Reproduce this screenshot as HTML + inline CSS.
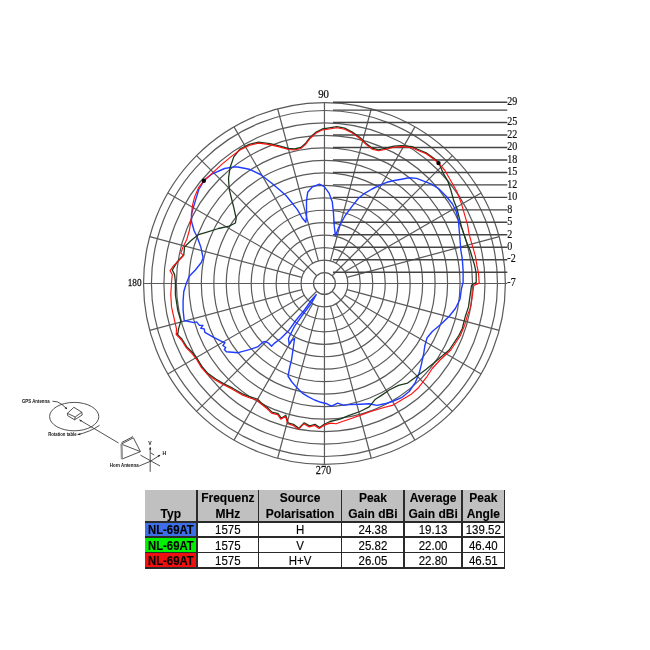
<!DOCTYPE html>
<html><head><meta charset="utf-8"><style>
html,body{margin:0;padding:0;background:#fff;}
body{width:650px;height:650px;position:relative;overflow:hidden;font-family:"Liberation Sans",sans-serif;}
svg{position:absolute;left:0;top:0;filter:blur(0.35px);}
.t{position:absolute;box-sizing:border-box;}
#tb{position:absolute;left:0;top:0;width:650px;height:650px;filter:blur(0.3px);}
.c{position:absolute;text-align:center;color:#000;-webkit-text-stroke:0.12px #000;}
</style></head><body>
<svg width="650" height="650" viewBox="0 0 650 650">
<g fill="none" stroke="#5a5a5a" stroke-width="1.2">
<circle cx="324.45" cy="283.50" r="10.90"/>
<circle cx="324.45" cy="283.50" r="23.37"/>
<circle cx="324.45" cy="283.50" r="35.84"/>
<circle cx="324.45" cy="283.50" r="48.31"/>
<circle cx="324.45" cy="283.50" r="60.78"/>
<circle cx="324.45" cy="283.50" r="73.25"/>
<circle cx="324.45" cy="283.50" r="85.72"/>
<circle cx="324.45" cy="283.50" r="98.19"/>
<circle cx="324.45" cy="283.50" r="110.66"/>
<circle cx="324.45" cy="283.50" r="123.13"/>
<circle cx="324.45" cy="283.50" r="135.60"/>
<circle cx="324.45" cy="283.50" r="148.07"/>
<circle cx="324.45" cy="283.50" r="160.54"/>
<circle cx="324.45" cy="283.50" r="173.01"/>
<circle cx="324.45" cy="283.50" r="180.90"/>
<line x1="347.02" y1="277.45" x2="499.19" y2="236.68"/>
<line x1="344.69" y1="271.81" x2="481.11" y2="193.05"/>
<line x1="332.16" y1="275.79" x2="452.37" y2="155.58"/>
<line x1="336.13" y1="263.26" x2="414.90" y2="126.84"/>
<line x1="330.50" y1="260.93" x2="371.27" y2="108.76"/>
<line x1="318.40" y1="260.93" x2="277.63" y2="108.76"/>
<line x1="312.76" y1="263.26" x2="234.00" y2="126.84"/>
<line x1="316.74" y1="275.79" x2="196.53" y2="155.58"/>
<line x1="304.21" y1="271.81" x2="167.79" y2="193.05"/>
<line x1="301.88" y1="277.45" x2="149.71" y2="236.68"/>
<line x1="301.88" y1="289.55" x2="149.71" y2="330.32"/>
<line x1="304.21" y1="295.19" x2="167.79" y2="373.95"/>
<line x1="316.74" y1="291.21" x2="196.53" y2="411.42"/>
<line x1="312.76" y1="303.74" x2="234.00" y2="440.16"/>
<line x1="318.40" y1="306.07" x2="277.63" y2="458.24"/>
<line x1="330.50" y1="306.07" x2="371.27" y2="458.24"/>
<line x1="336.13" y1="303.74" x2="414.90" y2="440.16"/>
<line x1="332.16" y1="291.21" x2="452.37" y2="411.42"/>
<line x1="344.69" y1="295.19" x2="481.11" y2="373.95"/>
<line x1="347.02" y1="289.55" x2="499.19" y2="330.32"/>
<line x1="324.45" y1="102.60" x2="324.45" y2="464.40"/>
<line x1="143.55" y1="283.50" x2="507.30" y2="283.50"/>
<line x1="332.95" y1="272.20" x2="507.30" y2="272.20" stroke="#444" stroke-width="1.4"/>
<line x1="332.95" y1="259.73" x2="507.30" y2="259.73" stroke="#444" stroke-width="1.4"/>
<line x1="332.95" y1="247.26" x2="507.30" y2="247.26" stroke="#444" stroke-width="1.4"/>
<line x1="332.95" y1="234.79" x2="507.30" y2="234.79" stroke="#444" stroke-width="1.4"/>
<line x1="332.95" y1="222.32" x2="507.30" y2="222.32" stroke="#444" stroke-width="1.4"/>
<line x1="332.95" y1="209.85" x2="507.30" y2="209.85" stroke="#444" stroke-width="1.4"/>
<line x1="332.95" y1="197.38" x2="507.30" y2="197.38" stroke="#444" stroke-width="1.4"/>
<line x1="332.95" y1="184.91" x2="507.30" y2="184.91" stroke="#444" stroke-width="1.4"/>
<line x1="332.95" y1="172.44" x2="507.30" y2="172.44" stroke="#444" stroke-width="1.4"/>
<line x1="332.95" y1="159.97" x2="507.30" y2="159.97" stroke="#444" stroke-width="1.4"/>
<line x1="332.95" y1="147.50" x2="507.30" y2="147.50" stroke="#444" stroke-width="1.4"/>
<line x1="332.95" y1="135.03" x2="507.30" y2="135.03" stroke="#444" stroke-width="1.4"/>
<line x1="332.95" y1="122.56" x2="507.30" y2="122.56" stroke="#444" stroke-width="1.4"/>
<line x1="332.95" y1="110.09" x2="507.30" y2="110.09" stroke="#444" stroke-width="1.4"/>
<line x1="332.95" y1="102.20" x2="507.30" y2="102.20" stroke="#444" stroke-width="1.4"/>
</g>
<g font-family="Liberation Serif" font-size="12" fill="#111" stroke="#111" stroke-width="0.2" transform="translate(507.3 0) scale(0.84 1) translate(-507.3 0)">
<text x="507.3" y="105.0">29</text>
<text x="507.3" y="125.4">25</text>
<text x="507.3" y="137.8">22</text>
<text x="507.3" y="150.3">20</text>
<text x="507.3" y="162.8">18</text>
<text x="507.3" y="175.2">15</text>
<text x="507.3" y="187.7">12</text>
<text x="507.3" y="200.2">10</text>
<text x="507.3" y="212.7">8</text>
<text x="507.3" y="225.1">5</text>
<text x="507.3" y="237.6">2</text>
<text x="507.3" y="250.1">0</text>
<text x="507.3" y="262.5">-2</text>
<text x="507.3" y="285.9">-7</text>
</g>
<g font-family="Liberation Serif" fill="#111" stroke="#111" stroke-width="0.25">
<text x="323.6" y="97.9" font-size="12" text-anchor="middle" transform="translate(323.6 0) scale(0.9 1) translate(-323.6 0)">90</text>
<text x="323.5" y="473.9" font-size="13" text-anchor="middle" transform="translate(323.5 0) scale(0.8 1) translate(-323.5 0)">270</text>
<text x="141.6" y="285.7" font-size="11.3" text-anchor="end" transform="translate(141.6 0) scale(0.82 1) translate(-141.6 0)">180</text>
</g>
<g fill="none" stroke-width="1.5" stroke-linejoin="round" stroke-linecap="round">
<path d="M186.2 283.8L189.2 276.2L195.4 270.0L201.5 262.3L203.1 257.7L200.8 246.9L196.9 236.2L194.2 231.0L191.5 221.5L191.5 213.8L194.2 204.6L198.8 189.5L204.6 180.0L212.3 173.8L224.6 168.5L233.8 166.9L237.7 167.0L249.2 169.2L260.4 174.5L271.5 183.0L280.0 190.3L286.2 195.8L292.3 203.2L297.2 209.4L302.2 218.0L305.8 222.3L306.5 216.8L306.5 200.8L307.7 192.2L312.0 187.2L319.4 184.2L324.3 186.6L329.2 193.4L332.3 202.0L333.5 213.1L334.2 225.4L335.4 235.8L339.1 226.6L345.2 215.5L352.6 205.7L358.5 198.2L364.6 193.3L372.0 189.0L379.4 185.3L386.8 182.3L394.2 180.5L401.5 179.2L409.0 177.7L416.6 178.4L423.1 180.8L430.8 183.8L438.5 188.5L446.2 196.2L452.3 203.8L456.2 211.5L458.5 220.8L459.2 230.0L460.0 239.2L460.8 250.0L462.3 259.2L463.1 270.0L463.1 282.3L461.5 288.5L460.0 299.2L455.4 308.5L449.2 316.2L441.5 323.8L432.3 331.5L427.0 338.0L424.8 346.0L423.8 353.1L421.5 363.8L419.2 373.1L415.4 382.3L409.2 391.5L401.5 397.7L392.3 401.5L384.6 403.8L376.9 405.4L369.2 403.8L360.0 404.2L349.2 404.6L343.8 405.4L337.7 403.1L331.5 406.2L326.9 403.8L320.8 402.3L314.6 400.0L308.5 396.9L302.3 393.1L296.2 386.9L291.5 381.5L288.0 376.0L290.0 366.0L291.5 360.0L293.1 349.2L294.6 338.5L291.5 340.8L289.2 344.6L288.5 338.5L291.5 332.3L294.6 326.2L302.3 315.4L311.5 303.1L316.2 294.6L311.5 300.0L303.8 310.8L296.2 320.0L288.5 330.8L280.8 338.5L274.6 343.1L271.5 346.2L268.5 343.1L265.4 341.5L263.1 342.0L257.6 346.9L249.3 349.6L238.2 352.7L226.4 351.7L224.3 349.6L225.7 347.5L222.9 345.5L225.0 342.7L221.6 341.3L213.2 337.2L204.9 332.3L204.2 328.9L200.8 328.2L202.9 325.4L199.4 325.4L196.6 321.9L193.9 322.6L184.2 320.5L183.1 310.0L183.1 300.8L183.8 291.5L186.2 283.8" stroke="#1f3cff" stroke-width="1.4"/>
<path d="M175.4 282.3L174.6 274.6L172.3 270.0L176.9 262.3L183.8 254.6L184.6 246.9L190.8 240.8L198.5 234.6L206.2 232.3L218.5 228.5L229.2 226.2L235.4 223.0L236.2 218.5L233.8 207.7L231.5 198.5L229.2 189.2L228.5 178.5L230.0 167.7L233.8 156.9L240.0 149.0L249.2 144.4L258.5 142.1L270.0 143.6L279.2 145.9L288.5 148.5L294.6 149.0L300.8 147.5L305.4 143.6L310.0 137.5L316.2 132.1L322.3 129.0L327.7 128.2L336.9 126.7L344.6 128.2L352.3 132.1L360.0 137.5L366.2 143.6L372.3 148.2L378.5 149.8L386.2 148.2L393.8 146.2L401.5 145.6L412.3 146.7L416.9 149.0L426.2 152.8L433.8 158.2L438.5 162.1L443.1 173.1L447.7 180.8L450.8 190.0L453.8 200.8L456.9 208.5L459.2 217.7L461.5 226.9L464.6 236.2L467.7 245.4L470.0 250.0L472.3 257.7L474.6 265.4L476.2 273.1L476.2 282.3L471.5 285.4L470.0 296.2L468.5 306.9L465.4 316.2L462.3 328.5L458.5 336.2L449.2 350.0L440.0 357.7L433.8 363.1L426.2 369.2L416.9 376.2L407.7 383.1L398.5 385.4L389.2 390.0L381.5 395.4L375.4 399.2L369.2 406.9L360.0 411.5L349.2 415.4L340.0 419.2L330.0 421.5L323.8 424.5L319.6 427.5L315.0 424.4L309.6 425.9L304.2 422.8L298.9 428.2L293.5 424.4L288.1 422.8L285.8 415.2L281.2 418.2L278.1 413.6L271.9 412.1L267.3 407.5L261.2 402.8L257.3 399.0L249.6 396.7L241.9 393.6L232.7 388.2L223.5 383.6L215.8 379.0L208.1 373.6L201.9 366.7L197.3 359.0L192.7 352.8L186.6 346.7L181.9 339.0L176.6 333.6L177.7 334.6L178.5 329.2L180.8 320.8L177.7 310.0L175.4 294.6L175.4 282.3" stroke="#1e3a1e" stroke-width="1.3"/>
<path d="M171.5 282.3L172.3 274.6L170.0 270.8L173.8 265.4L178.5 260.8L183.8 255.4L180.8 253.1L183.1 246.9L186.9 239.2L189.5 230.0L191.5 216.9L192.3 206.2L194.6 196.9L198.5 187.7L203.8 180.8L212.3 173.1L221.5 164.6L230.8 156.9L240.0 150.0L249.2 145.4L258.5 143.1L270.0 144.6L279.2 146.9L288.5 149.5L294.6 150.0L300.8 148.5L305.4 144.6L310.0 138.5L316.2 133.1L322.3 130.0L327.7 129.2L336.9 127.7L344.6 129.2L352.3 133.1L360.0 138.5L366.2 144.6L372.3 149.2L378.5 150.8L386.2 149.2L393.8 147.2L401.5 146.6L412.3 147.7L416.9 150.0L426.2 153.8L433.8 159.2L438.5 163.1L444.6 170.0L450.8 180.8L456.9 191.5L461.5 203.8L464.6 214.6L467.7 225.4L469.2 234.6L472.3 245.4L475.4 256.2L476.9 265.4L478.5 273.1L479.2 283.1L473.8 285.4L472.3 296.2L470.8 306.9L467.7 314.6L464.6 325.4L460.0 336.2L450.8 350.0L440.0 360.0L432.3 368.5L426.2 377.7L418.5 387.7L410.8 394.6L401.5 400.0L392.3 405.4L383.1 407.7L370.8 411.5L360.0 415.4L349.2 419.2L342.3 421.5L336.2 423.8L330.0 423.1L323.8 425.4L319.2 428.5L314.6 425.4L309.2 426.9L303.8 423.8L298.5 429.2L293.1 425.4L287.7 423.8L285.4 416.2L280.8 419.2L277.7 414.6L271.5 413.1L266.9 408.5L260.8 403.8L256.9 400.0L249.2 397.7L241.5 394.6L232.3 389.2L223.1 384.6L215.4 380.0L207.7 374.6L201.5 367.7L196.9 360.0L192.3 353.8L186.2 347.7L181.5 340.0L176.2 334.6L176.5 329.0L174.0 318.0L171.5 306.9L170.8 294.6L171.5 282.3" stroke="#ff1010" stroke-width="1.15"/>
</g>
<circle cx="203.8" cy="180.8" r="2.2" fill="#000"/>
<circle cx="438.5" cy="163.1" r="2.2" fill="#000"/>
<g fill="none" stroke="#333" stroke-width="0.85" stroke-linejoin="round">
<ellipse cx="74.2" cy="416.6" rx="24.6" ry="14.2"/>
<path d="M67.4 413.3 L73.9 407.3 L81.8 412.2 L75.2 417 Z"/>
<path d="M67.4 413.3 L67.6 415.6 L74.6 419.8 L82.2 415 L81.8 412.2 M75.2 417 L74.6 419.8"/>
<path d="M52.4 401.2 Q58 401 62 404.5 L67 409"/>
<path d="M79.4 419.8 L118.5 443"/>
<path d="M77.5 434.6 Q90 432 99.5 425.3"/>
<path d="M121.3 444.1 L133.4 437.8 L140.4 451.6 L121.9 459.1 Z"/>
<path d="M121.5 442.6 L133 436.6"/>
<path d="M121.3 444.1 L140.4 451.6"/>
<line x1="121.6" y1="444.1" x2="121.9" y2="459.1" stroke="#999" stroke-width="2.2"/>
<path d="M140.4 455.1 L160 466"/>
<path d="M150.2 447.6 L150.2 471.8"/>
<path d="M150.2 461.4 L160 455.1"/>
<path d="M139.2 466 L150.2 461.4"/>
<path d="M150.7 452.8 L154.2 455.1"/>
</g>
<g fill="#222">
<path d="M67.2 409.2 L64.6 408.3 L66.2 406.8 Z"/>
<path d="M79.4 419.8 L82 420.2 L80.8 421.8 Z"/>
<path d="M77.5 434.6 L80.2 433.2 L80.4 435.2 Z"/>
<path d="M150.2 446.8 L149.1 449.6 L151.3 449.6 Z"/>
<path d="M160.5 454.8 L157.6 455.4 L158.8 457.2 Z"/>
</g>
<g font-family="Liberation Sans" font-size="4.6" fill="#111" font-weight="bold">
<text x="21.9" y="403.3" textLength="27.7" lengthAdjust="spacingAndGlyphs">GPS Antenna</text>
<text x="48.2" y="436.2" textLength="28.4" lengthAdjust="spacingAndGlyphs">Rotation table</text>
<text x="109.8" y="467.1" textLength="28.8" lengthAdjust="spacingAndGlyphs">Horn Antenna</text>
<text x="148.2" y="444.8" font-size="5">V</text>
<text x="162.4" y="454.6" font-size="5">H</text>
</g>
</svg>
<div id="tb">
<div class="t" style="left:144.5px;top:489.8px;width:360.1px;height:32.1px;background:#c0c0c0;"></div>
<div class="t" style="left:144.5px;top:521.9px;width:52.7px;height:15.2px;background:#3f6fe8;"></div>
<div class="t" style="left:144.5px;top:537.1px;width:52.7px;height:15.3px;background:#00f000;"></div>
<div class="t" style="left:144.5px;top:552.4px;width:52.7px;height:15.7px;background:#f01010;"></div>
<div class="t" style="left:144.5px;top:521.1px;width:360.9px;height:1.5px;background:#2a2a2a;"></div>
<div class="t" style="left:144.5px;top:536.4px;width:360.9px;height:1.5px;background:#2a2a2a;"></div>
<div class="t" style="left:144.5px;top:551.6px;width:360.9px;height:1.5px;background:#2a2a2a;"></div>
<div class="t" style="left:144.5px;top:567.4px;width:360.9px;height:1.5px;background:#2a2a2a;"></div>
<div class="t" style="left:196.4px;top:489.8px;width:1.5px;height:79.1px;background:#2a2a2a;"></div>
<div class="t" style="left:257.8px;top:489.8px;width:1.5px;height:79.1px;background:#2a2a2a;"></div>
<div class="t" style="left:340.9px;top:489.8px;width:1.5px;height:79.1px;background:#2a2a2a;"></div>
<div class="t" style="left:403.4px;top:489.8px;width:1.5px;height:79.1px;background:#2a2a2a;"></div>
<div class="t" style="left:461.2px;top:489.8px;width:1.5px;height:79.1px;background:#2a2a2a;"></div>
<div class="t" style="left:503.9px;top:489.8px;width:1.5px;height:79.1px;background:#2a2a2a;"></div>
<div class="c" style="left:144.5px;width:52.7px;top:503.6px;height:20px;font-size:12.00px;line-height:20px;font-weight:bold;transform:scaleY(1.000);">Typ</div>
<div class="c" style="left:197.2px;width:61.3px;top:488.3px;height:20px;font-size:12.00px;line-height:20px;font-weight:bold;transform:scaleY(1.000);">Frequenz</div>
<div class="c" style="left:197.2px;width:61.3px;top:503.6px;height:20px;font-size:12.00px;line-height:20px;font-weight:bold;transform:scaleY(1.000);">MHz</div>
<div class="c" style="left:258.5px;width:83.1px;top:488.3px;height:20px;font-size:12.00px;line-height:20px;font-weight:bold;transform:scaleY(1.000);">Source</div>
<div class="c" style="left:258.5px;width:83.1px;top:503.6px;height:20px;font-size:12.00px;line-height:20px;font-weight:bold;transform:scaleY(1.000);">Polarisation</div>
<div class="c" style="left:341.6px;width:62.6px;top:488.3px;height:20px;font-size:12.00px;line-height:20px;font-weight:bold;transform:scaleY(1.000);">Peak</div>
<div class="c" style="left:341.6px;width:62.6px;top:503.6px;height:20px;font-size:12.00px;line-height:20px;font-weight:bold;transform:scaleY(1.000);">Gain dBi</div>
<div class="c" style="left:404.2px;width:57.8px;top:488.3px;height:20px;font-size:12.00px;line-height:20px;font-weight:bold;transform:scaleY(1.000);">Average</div>
<div class="c" style="left:404.2px;width:57.8px;top:503.6px;height:20px;font-size:12.00px;line-height:20px;font-weight:bold;transform:scaleY(1.000);">Gain dBi</div>
<div class="c" style="left:462.0px;width:42.6px;top:488.3px;height:20px;font-size:12.00px;line-height:20px;font-weight:bold;transform:scaleY(1.000);">Peak</div>
<div class="c" style="left:462.0px;width:42.6px;top:503.6px;height:20px;font-size:12.00px;line-height:20px;font-weight:bold;transform:scaleY(1.000);">Angle</div>
<div class="c" style="left:144.5px;width:52.7px;top:520.3px;height:20px;font-size:11.30px;line-height:20px;font-weight:bold;transform:scaleY(1.120);">NL-69AT</div>
<div class="c" style="left:197.2px;width:61.3px;top:520.3px;height:20px;font-size:11.50px;line-height:20px;transform:scaleY(1.120);">1575</div>
<div class="c" style="left:258.5px;width:83.1px;top:520.3px;height:20px;font-size:11.50px;line-height:20px;transform:scaleY(1.120);">H</div>
<div class="c" style="left:341.6px;width:62.6px;top:520.3px;height:20px;font-size:11.50px;line-height:20px;transform:scaleY(1.120);">24.38</div>
<div class="c" style="left:404.2px;width:57.8px;top:520.3px;height:20px;font-size:11.50px;line-height:20px;transform:scaleY(1.120);">19.13</div>
<div class="c" style="left:462.0px;width:42.6px;top:520.3px;height:20px;font-size:11.50px;line-height:20px;transform:scaleY(1.120);">139.52</div>
<div class="c" style="left:144.5px;width:52.7px;top:535.5px;height:20px;font-size:11.30px;line-height:20px;font-weight:bold;transform:scaleY(1.120);">NL-69AT</div>
<div class="c" style="left:197.2px;width:61.3px;top:535.5px;height:20px;font-size:11.50px;line-height:20px;transform:scaleY(1.120);">1575</div>
<div class="c" style="left:258.5px;width:83.1px;top:535.5px;height:20px;font-size:11.50px;line-height:20px;transform:scaleY(1.120);">V</div>
<div class="c" style="left:341.6px;width:62.6px;top:535.5px;height:20px;font-size:11.50px;line-height:20px;transform:scaleY(1.120);">25.82</div>
<div class="c" style="left:404.2px;width:57.8px;top:535.5px;height:20px;font-size:11.50px;line-height:20px;transform:scaleY(1.120);">22.00</div>
<div class="c" style="left:462.0px;width:42.6px;top:535.5px;height:20px;font-size:11.50px;line-height:20px;transform:scaleY(1.120);">46.40</div>
<div class="c" style="left:144.5px;width:52.7px;top:551.0px;height:20px;font-size:11.30px;line-height:20px;font-weight:bold;transform:scaleY(1.120);">NL-69AT</div>
<div class="c" style="left:197.2px;width:61.3px;top:551.0px;height:20px;font-size:11.50px;line-height:20px;transform:scaleY(1.120);">1575</div>
<div class="c" style="left:258.5px;width:83.1px;top:551.0px;height:20px;font-size:11.50px;line-height:20px;transform:scaleY(1.120);">H+V</div>
<div class="c" style="left:341.6px;width:62.6px;top:551.0px;height:20px;font-size:11.50px;line-height:20px;transform:scaleY(1.120);">26.05</div>
<div class="c" style="left:404.2px;width:57.8px;top:551.0px;height:20px;font-size:11.50px;line-height:20px;transform:scaleY(1.120);">22.80</div>
<div class="c" style="left:462.0px;width:42.6px;top:551.0px;height:20px;font-size:11.50px;line-height:20px;transform:scaleY(1.120);">46.51</div>
</div>
</body></html>
